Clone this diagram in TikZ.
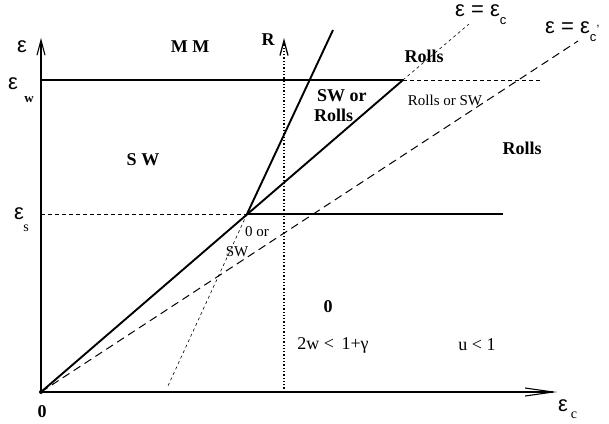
\documentclass[tikz,border=0pt]{standalone}
\usepackage{fontspec}
\setmainfont{Liberation Serif}
\newfontfamily\epsfont{Liberation Sans}
\usepackage{tikz}
\usetikzlibrary{arrows.meta,calc}
\tikzset{
  axisline/.style={line width=1.1pt, -{Straight Barb[length=15pt,width=8pt]}},
  phaseline/.style={line width=1.9pt},
  halfdash/.style={line width=0.9pt, dash pattern=on 4pt off 3pt},
  finedash/.style={line width=0.6pt, dash pattern=on 3pt off 3pt},
  longdash/.style={line width=1pt, dash pattern=on 8pt off 5pt},
  rline/.style={line width=1.3pt, dotted, -{Straight Barb[length=15pt,width=8pt]}},
  reglabel/.style={font=\fontsize{18}{20}\selectfont\bfseries, inner sep=0pt},
  smalllabel/.style={font=\fontsize{15}{17}\selectfont, inner sep=0pt},
  condlabel/.style={font=\fontsize{18}{20}\selectfont, inner sep=0pt},
  epslabel/.style={font=\fontsize{22}{24}\epsfont, inner sep=0pt},
}
\newcommand{\eps}{ε}

\begin{document}
\begin{tikzpicture}[x=1pt,y=-1pt]
  \useasboundingbox (0,0) rectangle (609,423);
  % Punkte
  \coordinate (O) at (41,392);
  \coordinate (ytop) at (41,38);
  \coordinate (xend) at (557,392);
  \coordinate (J) at (247,214);
  \coordinate (W) at (403,80);
  \coordinate (wleft) at (41,80);
  \coordinate (wright) at (540,80);
  \coordinate (sleft) at (41,214);
  \coordinate (sright) at (503,214);
  \coordinate (steeptop) at (333,30);
  \coordinate (steepbot) at (167,388);
  \coordinate (ctop) at (469,24);
  \coordinate (cptop) at (578,41);
  \coordinate (rbot) at (284,392);
  \coordinate (rtop) at (284,38);

  % Achsen
  \draw[axisline] (O) -- (ytop);
  \draw[line width=1.1pt, -{Straight Barb[length=28pt,width=8pt]}] (O) -- (xend);
  \draw[rline] (rbot) -- (rtop);
  \fill (O) circle (2pt);

  % Grenzen
  \draw[phaseline] (wleft) -- (W);
  \draw[halfdash] (W) -- (wright);
  \draw[halfdash] (sleft) -- (J);
  \draw[phaseline] (J) -- (sright);
  \draw[phaseline] (O) -- (W);
  \draw[finedash] (W) -- (ctop);
  \draw[phaseline] (J) -- (steeptop);
  \draw[finedash] (J) -- (steepbot);
  \draw[longdash] (O) -- (cptop);

  % Achsenbeschriftung
  \node[epslabel] (epsy) at (22,47) {\eps};
  \node[epslabel] (epsw) at (13,84) {\eps};
  \node[font=\fontsize{13}{14}\selectfont\bfseries, inner sep=0pt] (subw) at (29,100) {w};
  \node[epslabel] (epss) at (19,214) {\eps};
  \node[font=\fontsize{14}{15}\selectfont, inner sep=0pt] (subs) at (26,228) {s};
  \node[reglabel] (zero) at (42,412) {0};
  \node[epslabel] (epsx) at (563,406) {\eps};
  \node[font=\fontsize{14}{15}\selectfont, inner sep=0pt] (subc) at (574,415) {c};
  \node[reglabel] (rlab) at (268,40) {R};

  % Linienbeschriftung
  \node[epslabel, anchor=west] (eqc) at (455,15) {\eps{} = \eps\raisebox{-8pt}{\fontsize{13}{14}\selectfont c}};
  \node[epslabel, anchor=west] (eqcp) at (545,32) {\eps{} = \eps\raisebox{-8pt}{\fontsize{13}{14}\selectfont c}\raisebox{7pt}{\fontsize{12}{13}\selectfont ,}};

  % Bereiche
  \node[reglabel] (mm) at (190,47) {M M};
  \node[reglabel] (sw) at (143,160) {S W};
  \node[reglabel] (rollsup) at (424,56) {Rolls};
  \node[reglabel, align=left, anchor=west] (swrolls) at (314,106) {\hspace*{3pt}SW or\\Rolls};
  \node[smalllabel] (rollssw) at (445,100) {Rolls or SW};
  \node[reglabel] (rollsright) at (522,148) {Rolls};
  \node[smalllabel] (zeroor) at (257,232) {0 or};
  \node[smalllabel] (swsmall) at (237,252) {SW};
  \node[reglabel] (zeroreg) at (328,307) {0};
  \node[condlabel] (condw) at (333,345) {2w < \,1+γ};
  \node[condlabel] (condu) at (477,345) {u < 1};
\end{tikzpicture}
\end{document}
